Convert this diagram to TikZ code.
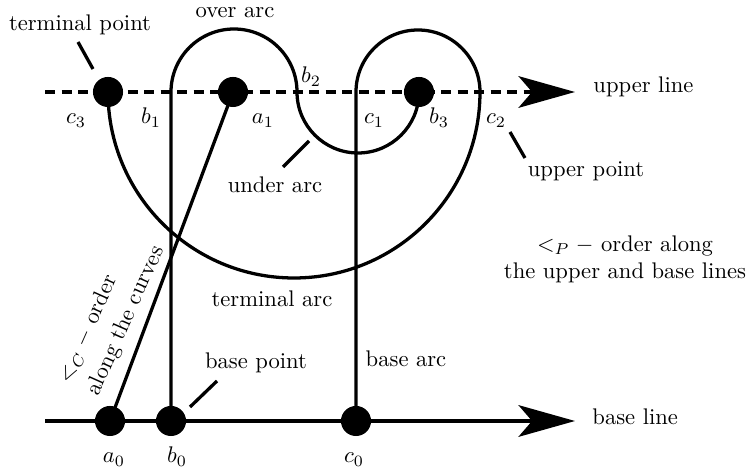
\documentclass[tikz,border=0pt]{standalone}
\usetikzlibrary{arrows.meta, positioning}
\tikzset{
  knotdot/.style={circle, fill=black, inner sep=0pt, minimum size=13.3pt},
  strand/.style ={line width=1.45pt},
  leader/.style ={line width=1.45pt},
  axis/.style   ={line width=1.45pt, -{Stealth[length=25pt, width=14pt, inset=6pt]}},
  lbl/.style    ={inner sep=0pt, anchor=base},
  slant/.style  ={inner sep=0pt, rotate=66},
}
\begin{document}
\begin{tikzpicture}[x=0.01555cm, y=0.01555cm]
  \useasboundingbox (0,0) rectangle (749,473);

  % points on the upper and base lines
  \node[knotdot] (c3) at (108,381) {};
  \node[knotdot] (a1) at (233,381) {};
  \node[knotdot] (b3) at (419,381) {};
  \node[knotdot] (a0) at (110,52) {};
  \node[knotdot] (b0) at (171,52) {};
  \node[knotdot] (c0) at (356,52) {};
  \coordinate (b1) at (171,381);
  \coordinate (c1) at (356,381);
  \coordinate (up0) at (45,381);
  \coordinate (up1) at (575,381);
  \coordinate (base0) at (45,52);
  \coordinate (base1) at (575,52);

  \draw[axis, dash pattern=on 4.5pt off 2.8pt] (up0) -- (up1);
  \draw[axis] (base0) -- (base1);

  % curves
  \draw[strand] (a0.center) -- (a1.center);
  \draw[strand] (b0.center) -- (b1) arc[start angle=180, end angle=0, radius=63]
                arc[start angle=180, end angle=360, radius=61];
  \draw[strand] (c0.center) -- (c1) arc[start angle=180, end angle=0, radius=62]
                arc[start angle=0, end angle=-180, radius=186];

  % point labels
  \node[lbl] (c3lbl) at (76,349) {$c_3$};
  \node[lbl] (b1lbl) at (151,349) {$b_1$};
  \node[lbl] (a1lbl) at (263,349) {$a_1$};
  \node[lbl] (b2lbl) at (311,390) {$b_2$};
  \node[lbl] (c1lbl) at (374,349) {$c_1$};
  \node[lbl] (b3lbl) at (439,349) {$b_3$};
  \node[lbl] (c2lbl) at (496,349) {$c_2$};
  \node[lbl] (a0lbl) at (114,10) {$a_0$};
  \node[lbl] (b0lbl) at (177,10) {$b_0$};
  \node[lbl] (c0lbl) at (354,10) {$c_0$};

  % names
  \node[lbl] (tpoint) at (80,442) {terminal point};
  \node[lbl] (overarc) at (235,455) {over arc};
  \node[lbl] (underarc) at (275,280) {under arc};
  \node[lbl] (upoint) at (586,296) {upper point};
  \node[lbl] (termarc) at (272,166) {terminal arc};
  \node[lbl] (bpoint) at (256,104) {base point};
  \node[lbl] (basearc) at (406,106) {base arc};
  \node[lbl, anchor=base west] (upline) at (593,380) {upper line};
  \node[lbl, anchor=base west] (baseline) at (592,48) {base line};
  \node[inner sep=0pt, align=center] (porder) at (625,214) {$<_P-$ order along\\the upper and base lines};
  \node[slant] (corder1) at (88,144) {$<_C-$ order};
  \node[slant] (corder2) at (126,152) {along the curves};

  \coordinate (tp1) at (78,431);  \coordinate (tp2) at (93,404);
  \coordinate (ua1) at (283,306); \coordinate (ua2) at (309,332);
  \coordinate (up1a) at (510,341); \coordinate (up2a) at (525,315);
  \coordinate (bp1) at (190,66);  \coordinate (bp2) at (217,92);
  \draw[leader] (tp1) -- (tp2);
  \draw[leader] (ua1) -- (ua2);
  \draw[leader] (up1a) -- (up2a);
  \draw[leader] (bp1) -- (bp2);
\end{tikzpicture}
\end{document}
